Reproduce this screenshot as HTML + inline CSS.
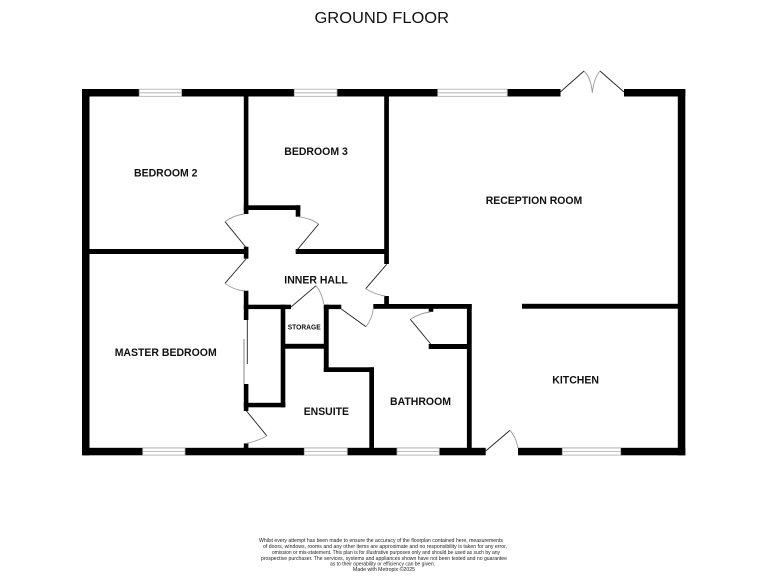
<!DOCTYPE html>
<html>
<head>
<meta charset="utf-8">
<title>Ground Floor</title>
<style>
html,body{margin:0;padding:0;background:#fff;width:768px;height:576px;overflow:hidden}
svg{display:block}
text{font-family:"Liberation Sans",sans-serif;fill:#111}
.l{font-weight:bold;font-size:11px}
.f{font-size:5px;fill:#222}
.w{fill:#000}
.win{fill:#fff;stroke:#aaa;stroke-width:.8}
.d{fill:none;stroke:#222;stroke-width:.9}
.a{fill:none;stroke:#999;stroke-width:.9}
</style>
</head>
<body>
<svg width="768" height="576" viewBox="0 0 768 576" xmlns="http://www.w3.org/2000/svg">
<text x="314.5" y="23" font-size="15.5" textLength="134.5" lengthAdjust="spacingAndGlyphs">GROUND FLOOR</text>

<!-- outer walls -->
<g class="w">
<rect x="82" y="89" width="478.5" height="7.5"/>
<rect x="624" y="89" width="61.3" height="7.5"/>
<rect x="82" y="89" width="7.5" height="366.3"/>
<rect x="677.8" y="89" width="7.5" height="366.3"/>
<rect x="82" y="447.8" width="403.7" height="7.5"/>
<rect x="518" y="447.8" width="167.3" height="7.5"/>

<!-- interior walls -->
<rect x="243.8" y="96" width="4.6" height="118"/>
<rect x="243.8" y="205.3" width="56.5" height="4.7"/>
<rect x="295.7" y="205.3" width="4.6" height="11.4"/>
<rect x="89" y="249" width="159.3" height="5"/>
<rect x="243.8" y="246.7" width="4.6" height="12"/>
<rect x="295.7" y="249" width="90" height="5"/>
<rect x="384.2" y="96" width="4.7" height="168"/>
<rect x="243.8" y="290.7" width="4.6" height="29.3"/>
<rect x="243.8" y="304.7" width="47.2" height="4.4"/>
<rect x="280.7" y="304.7" width="4.6" height="102.6"/>
<rect x="243.8" y="402.8" width="41.5" height="4.5"/>
<rect x="243.8" y="384" width="4.6" height="27"/>
<rect x="243.8" y="443.4" width="4.6" height="5"/>
<rect x="285" y="343.8" width="40" height="4.9"/>
<rect x="323.8" y="304.7" width="4.9" height="67.3"/>
<rect x="323.8" y="304.7" width="17.5" height="4.4"/>
<rect x="323.8" y="367.3" width="50.2" height="4.7"/>
<rect x="369.3" y="367.3" width="4.7" height="81"/>
<rect x="373.3" y="304" width="98.4" height="4.8"/>
<rect x="384.2" y="296" width="4.7" height="9"/>
<rect x="466.9" y="304" width="4.8" height="144.5"/>
<rect x="428.7" y="344" width="39" height="5"/>
<rect x="428.7" y="308" width="4.6" height="3.8"/>
<rect x="522" y="303.8" width="156" height="4.9"/>
</g>

<!-- windows -->
<g>
<rect class="win" x="139.2" y="89.2" width="42.4" height="7.1"/><line x1="139.2" x2="181.6" y1="92.8" y2="92.8" stroke="#aaa" stroke-width=".8"/>
<rect class="win" x="294.3" y="89.2" width="42.7" height="7.1"/><line x1="294.3" x2="337" y1="92.8" y2="92.8" stroke="#aaa" stroke-width=".8"/>
<rect class="win" x="437.7" y="89.2" width="69.6" height="7.1"/><line x1="437.7" x2="507.3" y1="92.8" y2="92.8" stroke="#aaa" stroke-width=".8"/>
<rect class="win" x="142.7" y="448" width="42.3" height="7.1"/><line x1="142.7" x2="185" y1="451.5" y2="451.5" stroke="#aaa" stroke-width=".8"/>
<rect class="win" x="304.3" y="448" width="43" height="7.1"/><line x1="304.3" x2="347.3" y1="451.5" y2="451.5" stroke="#aaa" stroke-width=".8"/>
<rect class="win" x="397" y="448" width="42.3" height="7.1"/><line x1="397" x2="439.3" y1="451.5" y2="451.5" stroke="#aaa" stroke-width=".8"/>
<rect class="win" x="562.3" y="448" width="58.4" height="7.1"/><line x1="562.3" x2="620.7" y1="451.5" y2="451.5" stroke="#aaa" stroke-width=".8"/>
</g>

<!-- door leaves -->
<g class="d">
<line x1="245.7" y1="247" x2="225" y2="221.7"/>
<line x1="295.7" y1="251.7" x2="318.7" y2="224"/>
<line x1="246" y1="259" x2="225" y2="283.3"/>
<line x1="386.7" y1="264.3" x2="365.7" y2="288.7"/>
<line x1="291" y1="307" x2="316" y2="285.7"/>
<line x1="341.3" y1="309" x2="366" y2="326.7"/>
<line x1="430.7" y1="344" x2="410.3" y2="319.3"/>
<line x1="246.5" y1="411" x2="266.7" y2="435.7"/>
<line x1="485.7" y1="451" x2="510" y2="430.3"/>
<line x1="560.3" y1="92" x2="584" y2="71"/>
<line x1="624" y1="92" x2="600" y2="71"/>
<line x1="247.3" y1="320" x2="247.3" y2="364"/>
</g>
<!-- door arcs -->
<g class="a">
<path d="M225 221.7Q233 215.5 244 214"/>
<path d="M318.7 224Q310 218 298 216.7"/>
<path d="M225 283.3Q233 289.5 244 291"/>
<path d="M365.7 288.7Q374 294 385 296"/>
<path d="M316 285.7Q322 293 323.7 304"/>
<path d="M366 326.7Q372 319 373.3 309"/>
<path d="M410.3 319.3Q419 313.5 430 312"/>
<path d="M266.7 435.7Q258 441 246 443.5"/>
<path d="M510 430.3Q516 437 518 448"/>
<path d="M584 71Q591 78 592.3 92.7"/>
<path d="M600 71Q594 78 592.3 92.7"/>
<line x1="244" y1="339" x2="244" y2="384" stroke-width="1.2"/>
</g>

<!-- room labels -->
<text class="l" x="134" y="176.5" textLength="63.5" lengthAdjust="spacingAndGlyphs">BEDROOM 2</text>
<text class="l" x="284.3" y="155" textLength="63.5" lengthAdjust="spacingAndGlyphs">BEDROOM 3</text>
<text class="l" x="284.3" y="283.5" textLength="63.5" lengthAdjust="spacingAndGlyphs">INNER HALL</text>
<text class="l" x="485.7" y="204" textLength="96.6" lengthAdjust="spacingAndGlyphs">RECEPTION ROOM</text>
<text class="l" x="114.7" y="356" textLength="102" lengthAdjust="spacingAndGlyphs">MASTER BEDROOM</text>
<text class="l" x="287.7" y="329.4" style="font-size:7.5px" textLength="33" lengthAdjust="spacingAndGlyphs">STORAGE</text>
<text class="l" x="303.7" y="415" textLength="45.3" lengthAdjust="spacingAndGlyphs">ENSUITE</text>
<text class="l" x="390" y="405" textLength="61" lengthAdjust="spacingAndGlyphs">BATHROOM</text>
<text class="l" x="552.3" y="383.5" textLength="46.7" lengthAdjust="spacingAndGlyphs">KITCHEN</text>

<!-- disclaimer -->
<text class="f" x="259" y="542" textLength="244" lengthAdjust="spacingAndGlyphs">Whilst every attempt has been made to ensure the accuracy of the floorplan contained here, measurements</text>
<text class="f" x="263" y="548" textLength="244" lengthAdjust="spacingAndGlyphs">of doors, windows, rooms and any other items are approximate and no responsibility is taken for any error,</text>
<text class="f" x="272" y="554.2" textLength="228" lengthAdjust="spacingAndGlyphs">omission or mis-statement. This plan is for illustrative purposes only and should be used as such by any</text>
<text class="f" x="261" y="560" textLength="246" lengthAdjust="spacingAndGlyphs">prospective purchaser. The services, systems and appliances shown have not been tested and no guarantee</text>
<text class="f" x="330" y="565.6" textLength="105" lengthAdjust="spacingAndGlyphs">as to their operability or efficiency can be given.</text>
<text class="f" x="353" y="571" textLength="62" lengthAdjust="spacingAndGlyphs">Made with Metropix ©2025</text>
</svg>
</body>
</html>
